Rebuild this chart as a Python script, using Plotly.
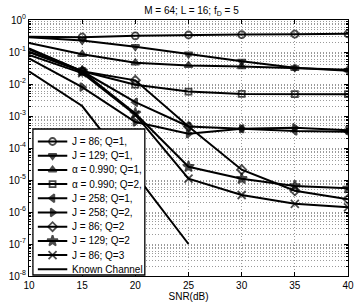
import plotly.graph_objects as go

# ---------------- data ----------------
snr = [10, 15, 20, 25, 30, 35, 40]
snr_known = [10, 15, 20, 25]

ber_j86_q1 = [0.30, 0.29, 0.32, 0.34, 0.35, 0.36, 0.37]
ber_j129_q1 = [0.29, 0.23, 0.146, 0.085, 0.051, 0.032, 0.026]
ber_a990_q1 = [0.19, 0.085, 0.046, 0.038, 0.035, 0.031, 0.028]
ber_a990_q2 = [0.13, 0.025, 0.0095, 0.0058, 0.0049, 0.0048, 0.0048]
ber_j258_q1 = [0.10, 0.025, 0.0027, 4.7e-4, 4.0e-4, 3.4e-4, 3.2e-4]
ber_j258_q2 = [0.063, 0.0080, 6.5e-4, 2.8e-4, 4.0e-4, 4.3e-4, 3.6e-4]
ber_j86_q2 = [0.12, 0.025, 0.013, 4.7e-4, 2.1e-5, 4.6e-6, 2.5e-6]
ber_j129_q2 = [0.10, 0.025, 1.2e-3, 2.6e-5, 1.1e-5, 6.5e-6, 5.5e-6]
ber_j86_q3 = [0.081, 0.022, 1.1e-3, 1.1e-5, 3.4e-6, 1.8e-6, 1.4e-6]
ber_known = [0.025, 2.05e-3, 1.5e-5, 1.0e-7]

series_names = ["J = 86; Q=1,", "J = 129; Q=1,", "α = 0.990; Q=1,", "α = 0.990; Q=2,",
                "J = 258; Q=1,", "J = 258; Q=2,", "J = 86; Q=2", "J = 129; Q=2",
                "J = 86; Q=3", "Known Channel"]

x_tick_vals = [10, 15, 20, 25, 30, 35, 40]
x_tick_text = ["10", "15", "20", "25", "30", "35", "40"]
y_tick_exps = [0, -1, -2, -3, -4, -5, -6, -7, -8]
y_tick_text = ["10<sup>0</sup>", "10<sup>-1</sup>", "10<sup>-2</sup>", "10<sup>-3</sup>",
               "10<sup>-4</sup>", "10<sup>-5</sup>", "10<sup>-6</sup>", "10<sup>-7</sup>",
               "10<sup>-8</sup>"]

title_text = "M = 64; L = 16; f<sub>D</sub> = 5"
xlabel = "SNR(dB)"

# ---------------- styles ----------------
symbols = ["circle-open", "triangle-down", "triangle-up", "square-open", "triangle-left",
           "triangle-right", "diamond-open", "star", "x-thin-open", None]
msizes = [7, 7, 7, 6, 7, 7, 7, 8, 8, 0]
ser_x = [snr] * 9 + [snr_known]
ser_y = [ber_j86_q1, ber_j129_q1, ber_a990_q1, ber_a990_q2, ber_j258_q1, ber_j258_q2,
         ber_j86_q2, ber_j129_q2, ber_j86_q3, ber_known]

FONT = "Liberation Sans, Arial, sans-serif"
W, H = 362, 308
ML, MR, MT, MB = 29, 8, 20, 32
PW, PH = W - ML - MR, H - MT - MB

fig = go.Figure()

for i in range(10):
    if symbols[i] is None:
        fig.add_trace(go.Scatter(x=ser_x[i], y=ser_y[i], mode="lines",
                                 line=dict(color="black", width=2), showlegend=False))
    else:
        sizes = [0] + [msizes[i]] * (len(ser_x[i]) - 1)
        fig.add_trace(go.Scatter(
            x=ser_x[i], y=ser_y[i], mode="lines+markers",
            line=dict(color="black", width=2),
            marker=dict(symbol=symbols[i], size=sizes, color="black",
                        line=dict(color="black", width=1.8)),
            showlegend=False))

# ---------------- custom legend (in an inset subplot) ----------------
box_px = (33, 129, 147, 275)  # left, top, right, bottom in pixels
lx0 = (box_px[0] - ML) / PW
lx1 = (box_px[2] - ML) / PW
ly0 = (MT + PH - box_px[3]) / PH
ly1 = (MT + PH - box_px[1]) / PH

fig.add_trace(go.Scatter(x=[0, 1, 1, 0, 0], y=[0, 0, 1, 1, 0], mode="lines", fill="toself",
                         fillcolor="white", line=dict(width=0, color="white"),
                         xaxis="x2", yaxis="y2", showlegend=False, hoverinfo="skip"))

bw = box_px[2] - box_px[0]
bh = box_px[3] - box_px[1]
first_py = 141.5
step_py = 14.2
for i in range(10):
    py = first_py + step_py * i
    yy = (box_px[3] - py) / bh
    xs = [(38 - box_px[0]) / bw, (53 - box_px[0]) / bw, (68 - box_px[0]) / bw]
    if symbols[i] is None:
        fig.add_trace(go.Scatter(x=[xs[0], xs[2]], y=[yy, yy], mode="lines",
                                 line=dict(color="black", width=2),
                                 xaxis="x2", yaxis="y2", showlegend=False, hoverinfo="skip"))
    else:
        fig.add_trace(go.Scatter(x=xs, y=[yy] * 3, mode="lines+markers",
                                 line=dict(color="black", width=2),
                                 marker=dict(symbol=symbols[i], size=[0, msizes[i], 0], color="black",
                                             line=dict(color="black", width=1.8)),
                                 xaxis="x2", yaxis="y2", showlegend=False, hoverinfo="skip"))
    fig.add_annotation(x=(71 - box_px[0]) / bw, y=yy, xref="x2", yref="y2", text=series_names[i],
                       showarrow=False, xanchor="left", yanchor="middle",
                       font=dict(family=FONT, size=10, color="black"))

fig.add_shape(type="rect", xref="paper", yref="paper", x0=lx0, x1=lx1, y0=ly0, y1=ly1,
              line=dict(color="black", width=1.3), fillcolor="rgba(0,0,0,0)", layer="above")

# ---------------- axes ----------------
grid_col = "#9a9a9a"
grid_dash = "1px,2px"
minor_vals = [m * 10.0 ** e for e in range(-8, 0) for m in range(2, 10)]

fig.update_layout(
    width=W, height=H,
    margin=dict(l=ML, r=MR, t=MT, b=MB),
    paper_bgcolor="white", plot_bgcolor="white",
    font=dict(family=FONT, size=10, color="black"),
    title=dict(text=title_text, x=(ML + PW / 2) / W, xanchor="center",
               y=1 - 10 / H, yanchor="middle", yref="container",
               font=dict(family=FONT, size=10, color="black")),
    xaxis=dict(range=[10, 40], tickmode="array", tickvals=x_tick_vals, ticktext=x_tick_text,
               showline=True, linecolor="black", linewidth=1, mirror="ticks",
               ticks="inside", ticklen=4, tickcolor="black",
               showgrid=True, gridcolor=grid_col, griddash=grid_dash, gridwidth=1,
               zeroline=False,
               title=dict(text=xlabel, standoff=2, font=dict(family=FONT, size=10)),
               tickfont=dict(family=FONT, size=10), domain=[0, 1]),
    yaxis=dict(type="log", range=[-8, 0], tickmode="array",
               tickvals=[10.0 ** e for e in y_tick_exps], ticktext=y_tick_text,
               showline=True, linecolor="black", linewidth=1, mirror="ticks",
               ticks="inside", ticklen=4, tickcolor="black",
               showgrid=True, gridcolor=grid_col, griddash=grid_dash, gridwidth=1,
               minor=dict(tickmode="array", tickvals=minor_vals, ticks="inside", ticklen=2,
                          tickcolor="black", showgrid=True, gridcolor=grid_col,
                          griddash=grid_dash, gridwidth=1),
               zeroline=False, tickfont=dict(family=FONT, size=10), domain=[0, 1]),
    xaxis2=dict(domain=[lx0, lx1], range=[0, 1], anchor="y2", visible=False, fixedrange=True),
    yaxis2=dict(domain=[ly0, ly1], range=[0, 1], anchor="x2", visible=False, fixedrange=True),
    showlegend=False,
)

fig.write_html("out.html")
